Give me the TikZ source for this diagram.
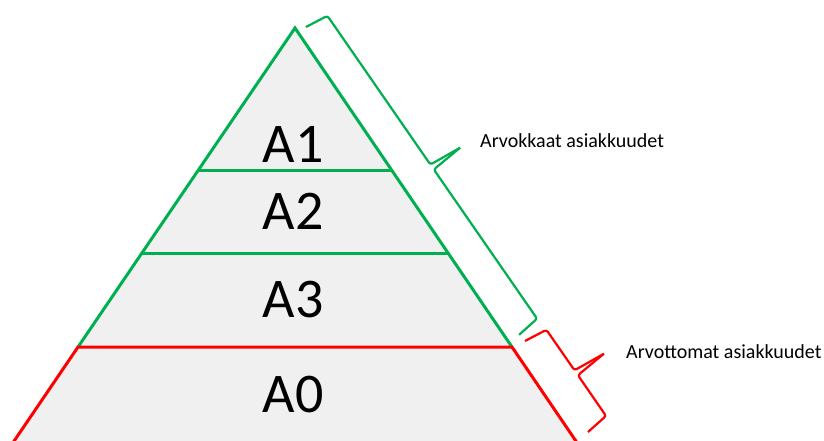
\documentclass[tikz,border=0pt]{standalone}
\usepackage{fontspec}
\setmainfont{Carlito}
\definecolor{pgreen}{HTML}{00B050}
\definecolor{pred}{HTML}{FF0000}
\definecolor{pfill}{HTML}{F0F0F0}
\begin{document}
\begin{tikzpicture}[x=1pt,y=-1pt,
  edge/.style={line width=3pt, line join=miter},
  bracepath/.style={line width=2.2pt, rounded corners=2.5pt, line join=round},
  big/.style={font=\fontsize{56}{60}\selectfont, anchor=base, inner sep=0pt},
  lab/.style={font=\fontsize{20}{24}\selectfont, anchor=base west, inner sep=0pt}]
\useasboundingbox (0,0) rectangle (824,441);
\clip (0,0) rectangle (824,441);
% pyramid
\coordinate (apex) at (295,28);
\coordinate (l1) at (198.4,170); \coordinate (r1) at (391.6,170);
\coordinate (l2) at (142,253);   \coordinate (r2) at (448,253);
\coordinate (l3) at (78,347);    \coordinate (r3) at (512,347);
\coordinate (lb) at (1.2,460);   \coordinate (rb) at (588.8,460);
\fill[pfill] (apex) -- (lb) -- (rb) -- cycle;
\draw[edge,pgreen] (l1) -- (r1);
\draw[edge,pgreen] (l2) -- (r2);
\draw[edge,pgreen] (l3) -- (apex) -- (r3);
\draw[edge,pred] (lb) -- (l3) -- (r3) -- (rb);
\node[big] (a1) at (293,162) {A1};
\node[big] (a2) at (293,229) {A2};
\node[big] (a3) at (293,317) {A3};
\node[big] (a0) at (293,412) {A0};
% green brace
\coordinate (g0) at (306,27);
\coordinate (g1) at (327.4,15.8);
\coordinate (g2) at (430.4,164.6);
\coordinate (gt) at (460.1,147.7);
\coordinate (g3) at (433.8,169.5);
\coordinate (g4) at (537.1,318.7);
\coordinate (g5) at (519.1,334.8);
\draw[bracepath,pgreen] (g0) -- (g1) -- (g2) -- (gt);
\draw[bracepath,pgreen] (gt) -- (g3) -- (g4) -- (g5);
% red brace
\coordinate (q0) at (525,341);
\coordinate (q1) at (546.4,329.8);
\coordinate (q2) at (574.5,370.3);
\coordinate (qt) at (603.8,353.8);
\coordinate (q3) at (577.9,375.2);
\coordinate (q4) at (606.0,415.9);
\coordinate (q5) at (588,432);
\draw[bracepath,pred] (q0) -- (q1) -- (q2) -- (qt);
\draw[bracepath,pred] (qt) -- (q3) -- (q4) -- (q5);
% labels
\node[lab] (t1) at (480,147) {Arvokkaat asiakkuudet};
\node[lab] (t2) at (626,358) {Arvottomat asiakkuudet};
\end{tikzpicture}
\end{document}
